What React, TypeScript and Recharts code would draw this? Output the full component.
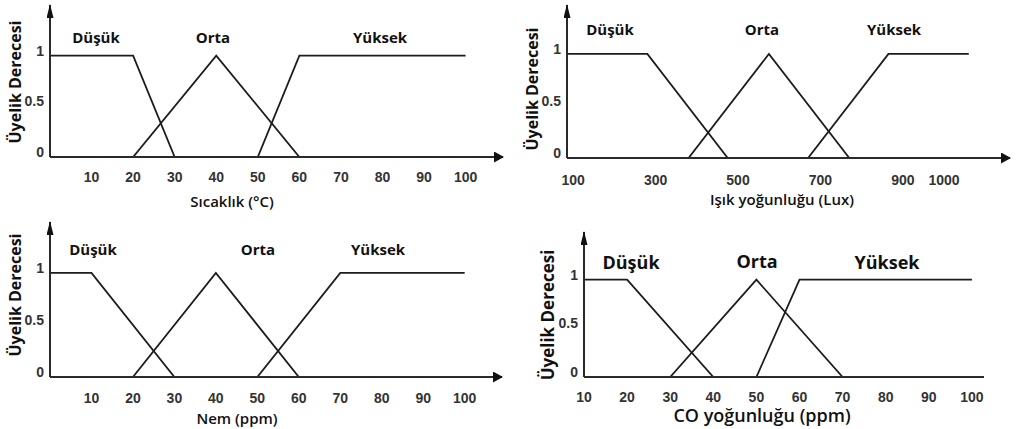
import React from 'react';
import { LineChart, Line, XAxis, YAxis } from 'recharts';

// ---------- data ----------
// Panel 1: Sıcaklık (°C)
const tempDusuk = [{ x: 0, y: 1 }, { x: 20, y: 1 }, { x: 30, y: 0 }];
const tempOrta = [{ x: 20, y: 0 }, { x: 40, y: 1 }, { x: 60, y: 0 }];
const tempYuksek = [{ x: 50, y: 0 }, { x: 60, y: 1 }, { x: 100, y: 1 }];
const tempTicks = [10, 20, 30, 40, 50, 60, 70, 80, 90, 100];

// Panel 2: Işık yoğunluğu (Lux)
const luxDusuk = [{ x: 85, y: 1 }, { x: 280, y: 1 }, { x: 475, y: 0 }];
const luxOrta = [{ x: 380, y: 0 }, { x: 575, y: 1 }, { x: 770, y: 0 }];
const luxYuksek = [{ x: 670, y: 0 }, { x: 865, y: 1 }, { x: 1060, y: 1 }];
const luxTicks = [100, 300, 500, 700, 900, 1000];

// Panel 3: Nem (ppm)
const nemDusuk = [{ x: 0, y: 1 }, { x: 10, y: 1 }, { x: 30, y: 0 }];
const nemOrta = [{ x: 20, y: 0 }, { x: 40, y: 1 }, { x: 60, y: 0 }];
const nemYuksek = [{ x: 50, y: 0 }, { x: 70, y: 1 }, { x: 100, y: 1 }];
const nemTicks = [10, 20, 30, 40, 50, 60, 70, 80, 90, 100];

// Panel 4: CO yoğunluğu (ppm)
const coDusuk = [{ x: 10, y: 1 }, { x: 20, y: 1 }, { x: 40, y: 0 }];
const coOrta = [{ x: 30, y: 0 }, { x: 50, y: 1 }, { x: 70, y: 0 }];
const coYuksek = [{ x: 50, y: 0 }, { x: 60, y: 1 }, { x: 100, y: 1 }];
const coTicks = [10, 20, 30, 40, 50, 60, 70, 80, 90, 100];

const yTicks = [0, 0.5, 1];
const setNames = ['Düşük', 'Orta', 'Yüksek'];
const yTitle = 'Üyelik Derecesi';
const xTitles = ['Sıcaklık (°C)', 'Işık yoğunluğu (Lux)', 'Nem (ppm)', 'CO yoğunluğu (ppm)'];

// ---------- layout ----------
const LABEL_FONT = "'Open Sans', 'DejaVu Sans', sans-serif";
const TICK_FONT = "'Liberation Sans', Arial, sans-serif";
const Y_W = 30;
const X_H = 30;

const panels = [
  {
    id: 'p1', box: { x: 0, y: 0, w: 510, h: 215 },
    plot: { left: 50, top: 5, right: 7, bottom: 58 },
    xDomain: [0, 109], yDomain: [0, 1.5], xTicks: tempTicks, xTickOffset: 25,
    series: [tempDusuk, tempOrta, tempYuksek], arrowX: true,
  },
  {
    id: 'p2', box: { x: 510, y: 0, w: 510, h: 215 },
    plot: { left: 57, top: 5, right: 10, bottom: 57 },
    xDomain: [85, 1160], yDomain: [0, 1.47], xTicks: luxTicks, xTickOffset: 27,
    series: [luxDusuk, luxOrta, luxYuksek], arrowX: true,
  },
  {
    id: 'p3', box: { x: 0, y: 215, w: 510, h: 214 },
    plot: { left: 50, top: 7, right: 8, bottom: 52 },
    xDomain: [0, 109], yDomain: [0, 1.49], xTicks: nemTicks, xTickOffset: 26,
    series: [nemDusuk, nemOrta, nemYuksek], arrowX: true,
  },
  {
    id: 'p4', box: { x: 510, y: 215, w: 475, h: 214 },
    plot: { left: 74, top: 17, right: 1, bottom: 52 },
    xDomain: [10, 102.8], yDomain: [0, 1.49], xTicks: coTicks, xTickOffset: 25,
    series: [coDusuk, coOrta, coYuksek], arrowX: false,
  },
];

// text annotations (page coordinates)
const setLabelPos = [
  { size: 15, pts: [[96, 43], [213, 43], [380, 43]] },
  { size: 15, pts: [[610, 35], [762, 35], [894, 35]] },
  { size: 15, pts: [[93, 255], [258, 255], [378, 255]] },
  { size: 18, pts: [[631, 269], [757, 268], [887, 269]] },
];
const xTitlePos = [
  { x: 232, y: 207, size: 15 },
  { x: 782, y: 205, size: 15 },
  { x: 237, y: 424, size: 15 },
  { x: 762, y: 422, size: 18 },
];
const yTitlePos = [
  { x: 15, y: 82, size: 16 },
  { x: 532, y: 89, size: 16 },
  { x: 15, y: 295, size: 16 },
  { x: 547, y: 315, size: 17 },
];

const tickText = { fontSize: 14, fontWeight: 700, fill: '#333', fontFamily: TICK_FONT };

function makeXTick(offset: number) {
  return (props: any) => (
    <text x={props.x} y={props.y + offset} textAnchor="middle" {...tickText}>
      {props.payload.value}
    </text>
  );
}

function YTick(props: any) {
  return (
    <text x={props.x} y={props.y} textAnchor="end" {...tickText}>
      {props.payload.value}
    </text>
  );
}

function Panel({ cfg }: { cfg: any }) {
  const { id, box, plot, xDomain, yDomain, xTicks, xTickOffset, series, arrowX } = cfg;
  const margin = { left: plot.left - Y_W, top: plot.top, right: plot.right, bottom: plot.bottom - X_H };
  const axisStyle = { stroke: '#2a2a2a', strokeWidth: 2 };
  return (
    <div style={{ position: 'absolute', left: box.x, top: box.y, width: box.w, height: box.h, overflow: 'hidden' }}>
      <LineChart width={box.w} height={box.h} margin={margin}>
        <defs>
          <marker id={`${id}-ax`} viewBox="0 0 10 11" refX="9" refY="5.5" markerWidth="10" markerHeight="11"
            markerUnits="userSpaceOnUse" orient="auto">
            <path d="M0,0 L10,5.5 L0,11 z" fill="#111" />
          </marker>
          <marker id={`${id}-ay`} viewBox="0 0 14 7" refX="13" refY="3.5" markerWidth="14" markerHeight="7"
            markerUnits="userSpaceOnUse" orient="auto-start-reverse">
            <path d="M0,0 L14,3.5 L0,7 z" fill="#111" />
          </marker>
        </defs>
        <XAxis
          type="number"
          dataKey="x"
          domain={xDomain}
          allowDataOverflow
          ticks={xTicks}
          interval={0}
          height={X_H}
          tickSize={0}
          tickMargin={0}
          tickLine={false}
          axisLine={{ ...axisStyle, markerEnd: arrowX ? `url(#${id}-ax)` : undefined }}
          tick={makeXTick(xTickOffset)}
        />
        <YAxis
          type="number"
          domain={yDomain}
          allowDataOverflow
          ticks={yTicks}
          interval={0}
          width={Y_W}
          tickSize={0}
          tickMargin={6}
          tickLine={false}
          axisLine={{ ...axisStyle, markerStart: `url(#${id}-ay)` }}
          tick={YTick}
        />
        {series.map((s: any, i: number) => (
          <Line
            key={i}
            data={s}
            dataKey="y"
            type="linear"
            stroke="#1c1c1c"
            strokeWidth={1.8}
            dot={false}
            activeDot={false}
            isAnimationActive={false}
          />
        ))}
      </LineChart>
    </div>
  );
}

export default function App() {
  return (
    <div style={{ position: 'fixed', left: 0, top: 0, width: 1020, height: 429, background: '#fff', overflow: 'hidden' }}>
      {panels.map((p) => (
        <Panel key={p.id} cfg={p} />
      ))}
      <svg width={1020} height={429} style={{ position: 'absolute', left: 0, top: 0, pointerEvents: 'none' }}>
        {setLabelPos.map((grp, gi) =>
          grp.pts.map((pt, i) => (
            <text key={`s${gi}-${i}`} x={pt[0]} y={pt[1]} textAnchor="middle" fontFamily={LABEL_FONT}
              fontWeight={700} fontSize={grp.size} fill="#111">
              {setNames[i]}
            </text>
          ))
        )}
        {xTitlePos.map((t, i) => (
          <text key={`xt${i}`} x={t.x} y={t.y} textAnchor="middle" fontFamily={LABEL_FONT}
            fontWeight={600} fontSize={t.size} fill="#111">
            {xTitles[i]}
          </text>
        ))}
        {yTitlePos.map((t, i) => (
          <text key={`yt${i}`} x={t.x} y={t.y} textAnchor="middle" dominantBaseline="central"
            transform={`rotate(-90 ${t.x} ${t.y})`} fontFamily={LABEL_FONT}
            fontWeight={700} fontSize={t.size} fill="#111">
            {yTitle}
          </text>
        ))}
      </svg>
    </div>
  );
}
